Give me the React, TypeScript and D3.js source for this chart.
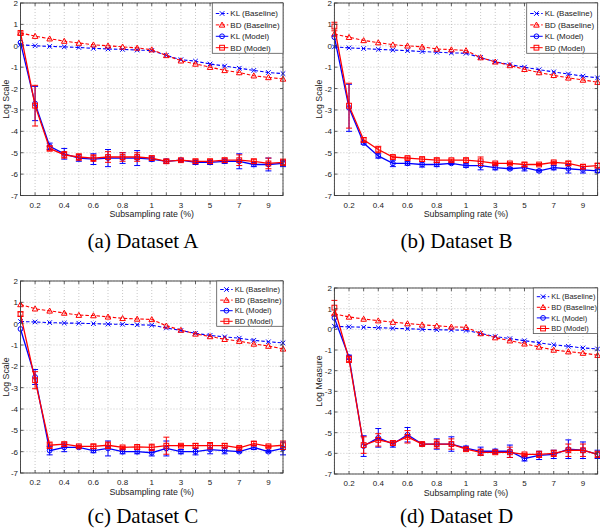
import React from "react";
import * as d3 from "d3";

const rates = ["0.1","0.2","0.3","0.4","0.5","0.6","0.7","0.8","0.9","1","2","3","4","5","6","7","8","9","10"];
const tickLabels = ["","0.2","","0.4","","0.6","","0.8","","1","","3","","5","","7","","9",""];
const yTicks = [-7,-6,-5,-4,-3,-2,-1,0,1,2];
const seriesNames = ["KL (Baseline)","BD (Baseline)","KL (Model)","BD (Model)"];
const captions = ["(a) Dataset A","(b) Dataset B","(c) Dataset C","(d) Dataset D"];
const yLabels = ["Log Scale","Log Scale","Log Scale","Log Measure"];
const xLabel = "Subsampling rate (%)";

// Dataset A
const aKlBase = [0.05,0.0,-0.03,-0.05,-0.08,-0.12,-0.15,-0.17,-0.2,-0.22,-0.45,-0.65,-0.72,-0.85,-0.95,-1.05,-1.15,-1.25,-1.3];
const aBdBase = [0.6,0.45,0.33,0.22,0.13,0.05,0.0,-0.05,-0.1,-0.18,-0.45,-0.7,-0.85,-1.0,-1.15,-1.25,-1.4,-1.48,-1.55];
const aKlModel = [0.15,-2.7,-4.7,-5.05,-5.25,-5.3,-5.25,-5.25,-5.25,-5.3,-5.4,-5.35,-5.45,-5.45,-5.4,-5.4,-5.55,-5.55,-5.5];
const aKlErr = [0,0.8,0.15,0.25,0.15,0.25,0.4,0.25,0.35,0.1,0.1,0.05,0.1,0.1,0.1,0.35,0.1,0.3,0.15];
const aBdModel = [0.6,-2.8,-4.8,-5.1,-5.2,-5.25,-5.2,-5.2,-5.2,-5.25,-5.4,-5.35,-5.4,-5.4,-5.35,-5.35,-5.4,-5.5,-5.45];
const aBdErr = [0,0.95,0.12,0.15,0.15,0.15,0.25,0.2,0.2,0.1,0.08,0.05,0.1,0.1,0.1,0.25,0.1,0.25,0.15];

// Dataset B
const bKlBase = [-0.05,-0.1,-0.13,-0.17,-0.2,-0.23,-0.27,-0.3,-0.33,-0.35,-0.55,-0.75,-0.88,-1.0,-1.12,-1.22,-1.32,-1.42,-1.5];
const bBdBase = [0.55,0.4,0.25,0.15,0.05,0.0,-0.05,-0.15,-0.18,-0.22,-0.55,-0.75,-0.92,-1.1,-1.25,-1.38,-1.5,-1.6,-1.7];
const bKlModel = [0.4,-2.9,-4.55,-5.15,-5.5,-5.5,-5.55,-5.55,-5.5,-5.6,-5.6,-5.7,-5.75,-5.7,-5.85,-5.7,-5.75,-5.8,-5.85];
const bKlErr = [0,1.1,0.05,0.1,0.15,0.08,0.12,0.1,0.05,0.08,0.2,0.1,0.05,0.15,0.05,0.1,0.2,0.15,0.08];
const bBdModel = [0.9,-2.8,-4.4,-4.85,-5.2,-5.25,-5.3,-5.35,-5.35,-5.35,-5.4,-5.5,-5.5,-5.55,-5.55,-5.45,-5.5,-5.65,-5.6];
const bBdErr = [0.2,1.05,0.1,0.15,0.05,0.05,0.1,0.1,0.05,0.1,0.2,0.05,0.05,0.1,0.05,0.05,0.1,0.1,0.1];

// Dataset C
const cKlBase = [0.1,0.08,0.05,0.03,0.02,0.0,-0.02,-0.03,-0.05,-0.07,-0.2,-0.32,-0.45,-0.55,-0.62,-0.68,-0.78,-0.85,-0.9];
const cBdBase = [0.9,0.7,0.6,0.5,0.4,0.38,0.32,0.25,0.22,0.2,-0.1,-0.3,-0.48,-0.6,-0.73,-0.82,-0.95,-1.05,-1.18];
const cKlModel = [-0.25,-2.5,-5.95,-5.8,-5.8,-5.95,-5.85,-6.0,-6.0,-6.05,-5.85,-6.0,-6.0,-5.9,-5.95,-6.0,-5.8,-6.0,-5.85];
const cKlErr = [0,0.35,0.2,0.2,0.05,0.1,0.35,0.1,0.1,0.15,0.35,0.1,0.15,0.2,0.15,0.05,0.1,0.05,0.3];
const cBdModel = [0.45,-2.65,-5.7,-5.65,-5.75,-5.75,-5.7,-5.8,-5.78,-5.8,-5.72,-5.72,-5.72,-5.72,-5.72,-5.82,-5.62,-5.75,-5.7];
const cBdErr = [0.1,0.4,0.15,0.1,0.05,0.1,0.15,0.05,0.1,0.15,0.4,0.05,0.1,0.15,0.1,0.05,0.1,0.05,0.2];

// Dataset D
const dKlBase = [0.15,0.12,0.1,0.08,0.05,0.03,0.0,-0.02,-0.03,-0.05,-0.2,-0.35,-0.45,-0.55,-0.65,-0.75,-0.82,-0.9,-0.95];
const dBdBase = [0.75,0.6,0.5,0.42,0.35,0.28,0.22,0.17,0.12,0.1,-0.2,-0.4,-0.55,-0.7,-0.85,-1.0,-1.08,-1.15,-1.25];
const dKlModel = [0.55,-1.35,-5.65,-5.25,-5.55,-5.1,-5.55,-5.55,-5.55,-5.75,-5.9,-5.9,-5.9,-6.25,-6.1,-6.05,-5.8,-5.85,-6.05];
const dKlErr = [0,0.1,0.5,0.45,0.15,0.35,0.08,0.25,0.35,0.1,0.2,0.1,0.3,0.12,0.2,0.2,0.45,0.4,0.2];
const dBdModel = [1.05,-1.45,-5.6,-5.35,-5.5,-5.2,-5.55,-5.55,-5.55,-5.8,-5.95,-5.95,-5.95,-6.05,-6.05,-6.0,-5.85,-5.85,-6.05];
const dBdErr = [0.35,0.15,0.4,0.3,0.1,0.3,0.08,0.2,0.25,0.08,0.15,0.08,0.25,0.05,0.15,0.15,0.3,0.3,0.15];

const BLUE = "#0000ff";
const RED = "#ff0000";
const FONT = "Liberation Sans";
const SERIF = "Liberation Serif";

type Marker = "x" | "tri" | "circ" | "sq";

function MarkerShape({ type, x, y, color }: { type: Marker; x: number; y: number; color: string }) {
  const sw = 1;
  if (type === "x") {
    const s = 2.3;
    return (
      <path d={`M${x - s},${y - s}L${x + s},${y + s}M${x - s},${y + s}L${x + s},${y - s}`} stroke={color} strokeWidth={sw} fill="none" />
    );
  }
  if (type === "tri") {
    const s = 2.8;
    return (
      <path d={`M${x},${y - s}L${x + s},${y + s * 0.8}L${x - s},${y + s * 0.8}Z`} stroke={color} strokeWidth={sw} fill="none" />
    );
  }
  if (type === "circ") {
    return <circle cx={x} cy={y} r={2.4} stroke={color} strokeWidth={sw} fill="none" />;
  }
  const s = 2.4;
  return <rect x={x - s} y={y - s} width={2 * s} height={2 * s} stroke={color} strokeWidth={sw} fill="none" />;
}

type PanelProps = {
  left: number; right: number; top: number; bottom: number;
  capX: number; capY: number; yLabX: number;
  leg: { x: number; y: number; w: number; h: number; first: number; step: number; fs: number };
  caption: string; yLabel: string;
  klBase: number[]; bdBase: number[]; klModel: number[]; klErr: number[]; bdModel: number[]; bdErr: number[];
};

function Panel(p: PanelProps) {
  const x = d3.scalePoint<string>().domain(rates).range([p.left, p.right]).padding(0);
  const y = d3.scaleLinear().domain([-7, 2]).range([p.bottom, p.top]);
  const line = d3.line<number>().x((_, i) => x(rates[i]) as number).y((d) => y(d));

  const series = [
    { vals: p.klBase, err: null as number[] | null, color: BLUE, dash: "3.5,2", marker: "x" as Marker },
    { vals: p.bdBase, err: null as number[] | null, color: RED, dash: "3.5,2", marker: "tri" as Marker },
    { vals: p.klModel, err: p.klErr, color: BLUE, dash: "", marker: "circ" as Marker },
    { vals: p.bdModel, err: p.bdErr, color: RED, dash: "", marker: "sq" as Marker },
  ];

  const tl = 3;
  const sans = { fontFamily: FONT };
  return (
    <g>
      {rates.map((r) => (
        <line key={"gx" + r} x1={x(r)} x2={x(r)} y1={p.top} y2={p.bottom} stroke="#b0b0b0" strokeWidth={0.7} strokeDasharray="1,2" />
      ))}
      {yTicks.map((t) => (
        <line key={"gy" + t} x1={p.left} x2={p.right} y1={y(t)} y2={y(t)} stroke="#b0b0b0" strokeWidth={0.7} strokeDasharray="1,2" />
      ))}
      {series.map((s, si) => (
        <g key={"s" + si}>
          {s.err &&
            s.vals.map((v, i) => {
              const e = s.err![i];
              if (!e) return null;
              const cx = x(rates[i]) as number;
              return (
                <g key={"e" + i} stroke={s.color} strokeWidth={1}>
                  <line x1={cx} x2={cx} y1={y(v - e)} y2={y(v + e)} />
                  <line x1={cx - 3} x2={cx + 3} y1={y(v - e)} y2={y(v - e)} />
                  <line x1={cx - 3} x2={cx + 3} y1={y(v + e)} y2={y(v + e)} />
                </g>
              );
            })}
          <path d={line(s.vals) as string} fill="none" stroke={s.color} strokeWidth={s.dash ? 1.1 : 1.3} strokeDasharray={s.dash || undefined} />
          {s.vals.map((v, i) => (
            <MarkerShape key={"m" + i} type={s.marker} x={x(rates[i]) as number} y={y(v)} color={s.color} />
          ))}
        </g>
      ))}
      <rect x={p.left} y={p.top} width={p.right - p.left} height={p.bottom - p.top} fill="none" stroke="#3a3a3a" strokeWidth={0.9} />
      {rates.map((r) => (
        <g key={"tx" + r} stroke="#3a3a3a" strokeWidth={0.8}>
          <line x1={x(r)} x2={x(r)} y1={p.bottom} y2={p.bottom - tl} />
          <line x1={x(r)} x2={x(r)} y1={p.top} y2={p.top + tl} />
        </g>
      ))}
      {yTicks.map((t) => (
        <g key={"ty" + t} stroke="#3a3a3a" strokeWidth={0.8}>
          <line x1={p.left} x2={p.left + tl} y1={y(t)} y2={y(t)} />
          <line x1={p.right} x2={p.right - tl} y1={y(t)} y2={y(t)} />
        </g>
      ))}
      {rates.map((r, i) =>
        tickLabels[i] ? (
          <text key={"lx" + r} x={x(r)} y={p.bottom + 12} textAnchor="middle" fontSize={8} style={sans} fill="#222">
            {tickLabels[i]}
          </text>
        ) : null
      )}
      {yTicks.map((t) => (
        <text key={"ly" + t} x={p.left - 2.5} y={y(t) + 3} textAnchor="end" fontSize={8} style={sans} fill="#222">
          {t}
        </text>
      ))}
      <text x={(p.left + p.right) / 2} y={p.bottom + 21.5} textAnchor="middle" fontSize={8.8} style={sans} fill="#222">
        {xLabel}
      </text>
      <text
        transform={`translate(${p.yLabX},${(p.top + p.bottom) / 2}) rotate(-90)`}
        textAnchor="middle" fontSize={8.8} style={sans} fill="#222"
      >
        {p.yLabel}
      </text>
      <rect x={p.leg.x} y={p.leg.y} width={p.leg.w} height={p.leg.h} fill="#fff" stroke="#555" strokeWidth={0.8} />
      {series.map((s, si) => {
        const ly = p.leg.y + p.leg.first + si * p.leg.step;
        const x0 = p.leg.x + 3.5;
        const x1 = p.leg.x + 16;
        return (
          <g key={"lg" + si}>
            <line x1={x0} x2={x1} y1={ly} y2={ly} stroke={s.color} strokeWidth={1} strokeDasharray={s.dash || undefined} />
            <MarkerShape type={s.marker} x={(x0 + x1) / 2} y={ly} color={s.color} />
            <text x={x1 + 2} y={ly + p.leg.fs * 0.36} fontSize={p.leg.fs} style={sans} fill="#222">
              {seriesNames[si]}
            </text>
          </g>
        );
      })}
      <text x={p.capX} y={p.capY} textAnchor="middle" fontSize={21} style={{ fontFamily: SERIF }} fill="#000">
        {p.caption}
      </text>
    </g>
  );
}

export default function App() {
  return (
    <svg width={600} height={528} style={{ position: "absolute", left: 0, top: 0, background: "#fff" }}>
      <rect width={600} height={528} fill="#fff" />
      <Panel
        left={20.5} right={283} top={3} bottom={195.5} capX={143} capY={248} yLabX={8.5}
        leg={{ x: 212.3, y: 3, w: 70.7, h: 50.3, first: 10.5, step: 11.4, fs: 8 }}
        caption={captions[0]} yLabel={yLabels[0]}
        klBase={aKlBase} bdBase={aBdBase} klModel={aKlModel} klErr={aKlErr} bdModel={aBdModel} bdErr={aBdErr}
      />
      <Panel
        left={334.4} right={597.6} top={3} bottom={195.5} capX={456.5} capY={248} yLabX={322}
        leg={{ x: 526.7, y: 3, w: 70.9, h: 50.3, first: 10.5, step: 11.4, fs: 8 }}
        caption={captions[1]} yLabel={yLabels[1]}
        klBase={bKlBase} bdBase={bBdBase} klModel={bKlModel} klErr={bKlErr} bdModel={bBdModel} bdErr={bBdErr}
      />
      <Panel
        left={20.5} right={283} top={281} bottom={473} capX={143} capY={523} yLabX={8.5}
        leg={{ x: 216.7, y: 281, w: 66.3, h: 45.3, first: 8.5, step: 10.6, fs: 7.6 }}
        caption={captions[2]} yLabel={yLabels[2]}
        klBase={cKlBase} bdBase={cBdBase} klModel={cKlModel} klErr={cKlErr} bdModel={cBdModel} bdErr={cBdErr}
      />
      <Panel
        left={334.4} right={597.6} top={288} bottom={474} capX={456.5} capY={523} yLabX={322}
        leg={{ x: 533.3, y: 288, w: 64.3, h: 45.6, first: 8.7, step: 10.6, fs: 7.4 }}
        caption={captions[3]} yLabel={yLabels[3]}
        klBase={dKlBase} bdBase={dBdBase} klModel={dKlModel} klErr={dKlErr} bdModel={dBdModel} bdErr={dBdErr}
      />
    </svg>
  );
}
